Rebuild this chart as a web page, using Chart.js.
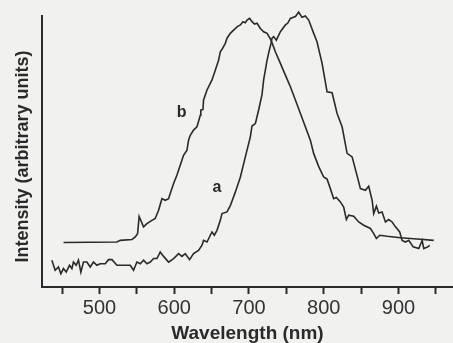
<!DOCTYPE html>
<html>
<head>
<meta charset="utf-8">
<script src="https://cdn.jsdelivr.net/npm/chart.js@4/dist/chart.umd.min.js"></script>
<style>
  html, body { margin: 0; padding: 0; background: #f1f1ef; overflow: hidden; }
  #wrap { width: 453px; height: 343px; position: relative; }
</style>
</head>
<body>
<div id="wrap"><canvas id="c"></canvas></div>
<script>
// Curve a (wavelength nm, intensity arbitrary units)
const aWavelength = [436.2,440.6,445.0,448.3,451.7,455.4,459.8,463.0,465.1,468.7,471.8,475.0,478.5,483.1,487.5,491.9,496.5,500.9,507.6,512.0,516.6,523.3,532.1,541.1,545.5,550.0,554.5,558.9,563.4,567.9,572.3,576.8,581.2,585.7,592.4,599.1,605.8,610.3,614.7,620.5,625.8,632.5,637.1,639.2,643.8,648.2,650.5,653.6,657.2,661.6,663.9,670.6,675.0,681.7,688.4,695.1,701.8,704.0,708.5,712.9,717.4,719.6,724.2,727.2,729.5,730.8,733.0,736.6,742.0,748.7,751.7,755.4,762.1,766.5,771.0,775.4,779.9,786.6,791.0,797.8,804.5,811.2,817.9,824.6,831.3,838.0,844.7,849.1,855.8,860.2,864.8,866.9,870.5,873.6,878.1,882.6,887.0,891.5,896.0,901.7,904.9,909.4,913.8,919.7,927.2,931.7,933.9,939.2,941.9];
const aIntensity  = [9.9,6.2,7.4,4.9,6.8,5.5,8.0,6.8,9.2,8.0,9.9,5.5,9.2,9.2,7.4,9.2,8.0,8.6,8.6,10.1,10.1,8.0,8.0,8.0,6.2,9.2,8.6,9.9,8.6,9.2,10.5,10.5,12.9,11.3,9.2,10.5,12.3,11.3,12.3,10.1,12.3,13.5,15.4,17.2,16.6,19.1,20.3,19.1,20.9,24.6,27.1,27.7,30.0,35.0,40.5,48.0,55.4,59.4,60.3,65.3,71.0,76.4,83.7,87.4,89.9,91.8,92.4,91.1,94.2,96.7,97.3,99.1,99.8,101.4,99.5,100.0,98.5,93.6,90.5,82.5,72.0,71.7,64.0,59.1,49.3,48.0,41.0,36.3,35.7,37.2,32.0,27.1,29.8,27.3,27.7,24.0,24.9,24.0,22.2,20.3,17.2,16.6,17.2,14.8,14.2,17.2,14.2,14.8,15.4];

// Curve b
const bWavelength = [451.8,523.2,527.7,543.3,547.8,550.9,553.0,558.9,563.4,570.1,574.5,579.0,583.5,587.9,592.4,594.6,599.1,603.6,608.0,612.4,617.0,619.1,621.4,625.8,630.4,634.8,635.5,638.4,639.2,643.8,650.5,654.9,659.3,661.6,663.9,668.3,670.6,675.0,679.4,684.0,688.4,692.0,695.1,697.4,700.8,704.1,707.5,710.8,715.2,719.6,724.2,729.5,735.3,742.0,748.7,755.4,762.1,768.7,775.4,782.1,786.5,793.2,799.9,804.5,808.9,813.3,816.9,822.3,826.7,830.3,833.4,840.1,846.8,853.5,862.5,866.9,870.5,875.0,884.8,902.7,925.0,947.2];
const bIntensity  = [16.4,16.6,17.2,17.5,18.5,19.7,26.0,22.2,23.4,24.6,25.3,28.3,32.6,32.0,32.6,34.5,38.2,41.3,44.9,48.6,50.5,54.2,56.0,57.9,59.1,63.4,65.3,65.5,69.0,72.7,76.4,80.0,83.7,86.8,87.7,89.9,91.8,93.6,94.8,96.0,96.7,97.9,97.5,98.5,99.1,97.9,97.0,97.3,95.4,94.2,93.6,91.1,86.8,82.5,78.2,73.9,69.0,64.1,59.1,54.2,49.3,44.5,40.6,39.8,36.3,32.6,33.0,31.4,29.5,24.9,26.5,26.1,24.0,22.8,21.6,19.7,17.9,19.1,18.7,18.2,17.7,17.2];

// Axis ticks
const xTickValues = [450,500,550,600,650,700,750,800,850,900,950];
const xTickLabels = ['','500','','600','','700','','800','','900',''];

// Curve labels (placed in data units)
const curveLabels = ['a','b'];
const labelWavelength = [657,610];
const labelIntensity = [36.7,64.3];

const toXY = (xs, ys) => xs.map((x, i) => ({x: x, y: ys[i]}));

const ink = '#2a2a2a';

const curveLabelPlugin = {
  id: 'curveLabels',
  afterDatasetsDraw(chart) {
    const {ctx, scales} = chart;
    ctx.save();
    ctx.fillStyle = ink;
    ctx.font = 'bold 16px "Liberation Sans", Arial, sans-serif';
    ctx.textAlign = 'center';
    ctx.textBaseline = 'middle';
    curveLabels.forEach((t, i) => {
      ctx.fillText(t, scales.x.getPixelForValue(labelWavelength[i]), scales.y.getPixelForValue(labelIntensity[i]));
    });
    ctx.restore();
  }
};

new Chart(document.getElementById('c'), {
  type: 'line',
  data: {
    datasets: [
      { label: 'a', data: toXY(aWavelength, aIntensity), borderColor: ink, borderWidth: 1.6, pointRadius: 0, tension: 0, clip: false, fill: false },
      { label: 'b', data: toXY(bWavelength, bIntensity), borderColor: ink, borderWidth: 1.6, pointRadius: 0, tension: 0, clip: false, fill: false }
    ]
  },
  options: {
    responsive: true,
    maintainAspectRatio: false,
    animation: false,
    layout: { padding: { top: 16, right: 0, bottom: 0, left: 0 } },
    plugins: { legend: { display: false }, tooltip: { enabled: false } },
    scales: {
      x: {
        type: 'linear',
        min: 423,
        max: 973,
        afterBuildTicks(scale) { scale.ticks = xTickValues.map(v => ({value: v})); },
        afterFit(scale) { scale.height = 56; },
        ticks: {
          autoSkip: false,
          maxRotation: 0,
          padding: 2,
          color: '#333',
          font: { family: '"Liberation Sans", Arial, sans-serif', size: 20 },
          callback: (v, i) => xTickLabels[i]
        },
        grid: { drawOnChartArea: false, drawTicks: true, tickLength: 7, tickWidth: 2, tickColor: ink },
        border: { display: true, width: 2, color: ink },
        title: {
          display: true,
          text: 'Wavelength (nm)',
          color: ink,
          padding: { top: 0, bottom: 0 },
          font: { family: '"Liberation Sans", Arial, sans-serif', size: 19, weight: 'bold', lineHeight: 1 }
        }
      },
      y: {
        min: 0,
        max: 100,
        afterFit(scale) { scale.width = 42; },
        ticks: { display: false },
        grid: { display: false, drawTicks: false },
        border: { display: true, width: 2, color: ink },
        title: {
          display: true,
          text: 'Intensity (arbitrary units)  ',
          color: ink,
          padding: { top: 12, bottom: 0 },
          font: { family: '"Liberation Sans", Arial, sans-serif', size: 18, weight: 'bold' }
        }
      }
    }
  },
  plugins: [curveLabelPlugin]
});
</script>
</body>
</html>
